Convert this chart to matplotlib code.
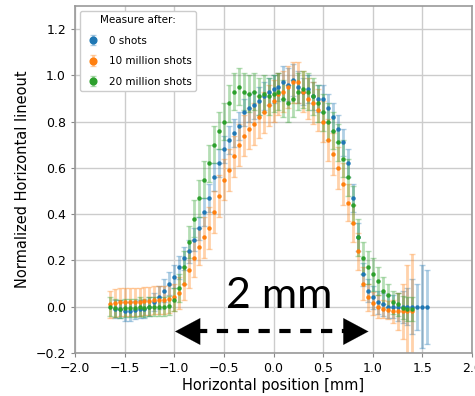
import numpy as np
import matplotlib.pyplot as plt

# Lineouts (step 0.05 mm)
x_blue = [-1.60, -1.55, -1.50, -1.45, -1.40, -1.35, -1.30, -1.25, -1.20, -1.15,
          -1.10, -1.05, -1.00, -0.95, -0.90, -0.85, -0.80, -0.75, -0.70, -0.65,
          -0.60, -0.55, -0.50, -0.45, -0.40, -0.35, -0.30, -0.25, -0.20, -0.15,
          -0.10, -0.05, 0.00, 0.05, 0.10, 0.15, 0.20, 0.25, 0.30, 0.35,
          0.40, 0.45, 0.50, 0.55, 0.60, 0.65, 0.70, 0.75, 0.80, 0.85,
          0.90, 0.95, 1.00, 1.05, 1.10, 1.15, 1.20, 1.25, 1.30, 1.35,
          1.40, 1.45, 1.50, 1.55]
y_blue = [-0.01, -0.01, -0.02, -0.02, -0.015, -0.01, -0.01, 0.0, 0.02, 0.04,
          0.07, 0.10, 0.13, 0.17, 0.21, 0.24, 0.29, 0.34, 0.41, 0.47,
          0.56, 0.62, 0.68, 0.72, 0.75, 0.78, 0.84, 0.86, 0.87, 0.89,
          0.91, 0.93, 0.94, 0.95, 0.97, 0.96, 0.98, 0.95, 0.93, 0.94,
          0.91, 0.90, 0.90, 0.86, 0.82, 0.77, 0.71, 0.62, 0.47, 0.30,
          0.14, 0.07, 0.04, 0.02, 0.01, 0.0, 0.0, 0.0, 0.0, 0.0,
          0.0, 0.0, 0.0, 0.0]
e_blue = [0.04, 0.04, 0.04, 0.04, 0.04, 0.04, 0.04, 0.04, 0.04, 0.05,
          0.05, 0.05, 0.05, 0.05, 0.05, 0.05, 0.05, 0.05, 0.06, 0.06,
          0.06, 0.06, 0.06, 0.06, 0.06, 0.06, 0.06, 0.06, 0.06, 0.06,
          0.06, 0.06, 0.06, 0.06, 0.07, 0.07, 0.07, 0.07, 0.06, 0.06,
          0.06, 0.06, 0.06, 0.06, 0.06, 0.06, 0.06, 0.06, 0.06, 0.06,
          0.05, 0.05, 0.05, 0.05, 0.05, 0.05, 0.05, 0.06, 0.07, 0.08,
          0.12, 0.10, 0.18, 0.16]

x_orange = [-1.65, -1.60, -1.55, -1.50, -1.45, -1.40, -1.35, -1.30, -1.25, -1.20,
            -1.15, -1.10, -1.05, -1.00, -0.95, -0.90, -0.85, -0.80, -0.75, -0.70,
            -0.65, -0.60, -0.55, -0.50, -0.45, -0.40, -0.35, -0.30, -0.25, -0.20,
            -0.15, -0.10, -0.05, 0.00, 0.05, 0.10, 0.15, 0.20, 0.25, 0.30,
            0.35, 0.40, 0.45, 0.50, 0.55, 0.60, 0.65, 0.70, 0.75, 0.80,
            0.85, 0.90, 0.95, 1.00, 1.05, 1.10, 1.15, 1.20, 1.25, 1.30,
            1.35, 1.40]
y_orange = [0.01, 0.015, 0.02, 0.02, 0.02, 0.02, 0.02, 0.025, 0.025, 0.03,
            0.03, 0.03, 0.035, 0.04, 0.06, 0.10, 0.16, 0.21, 0.26, 0.30,
            0.34, 0.41, 0.48, 0.55, 0.59, 0.65, 0.70, 0.74, 0.77, 0.79,
            0.82, 0.84, 0.87, 0.89, 0.92, 0.93, 0.95, 0.97, 0.97, 0.93,
            0.90, 0.88, 0.85, 0.80, 0.72, 0.66, 0.60, 0.53, 0.45, 0.36,
            0.24, 0.10, 0.04, 0.015, 0.0, -0.01, -0.015, -0.02, -0.02, -0.02,
            -0.02, -0.02]
e_orange = [0.06, 0.06, 0.06, 0.06, 0.06, 0.06, 0.06, 0.06, 0.06, 0.06,
            0.06, 0.06, 0.06, 0.06, 0.07, 0.07, 0.08, 0.08, 0.08, 0.09,
            0.09, 0.09, 0.09, 0.09, 0.09, 0.09, 0.09, 0.09, 0.09, 0.09,
            0.09, 0.09, 0.09, 0.09, 0.09, 0.09, 0.09, 0.09, 0.09, 0.09,
            0.09, 0.09, 0.09, 0.09, 0.09, 0.09, 0.09, 0.09, 0.08, 0.08,
            0.08, 0.07, 0.06, 0.05, 0.05, 0.04, 0.04, 0.05, 0.08, 0.12,
            0.20, 0.25]

x_green = [-1.65, -1.60, -1.55, -1.50, -1.45, -1.40, -1.35, -1.30, -1.25, -1.20,
           -1.15, -1.10, -1.05, -1.00, -0.95, -0.90, -0.85, -0.80, -0.75, -0.70,
           -0.65, -0.60, -0.55, -0.50, -0.45, -0.40, -0.35, -0.30, -0.25, -0.20,
           -0.15, -0.10, -0.05, 0.00, 0.05, 0.10, 0.15, 0.20, 0.25, 0.30,
           0.35, 0.40, 0.45, 0.50, 0.55, 0.60, 0.65, 0.70, 0.75, 0.80,
           0.85, 0.90, 0.95, 1.00, 1.05, 1.10, 1.15, 1.20, 1.25, 1.30,
           1.35, 1.40]
y_green = [0.0, -0.005, -0.01, -0.005, -0.005, -0.005, 0.0, -0.005, 0.0, 0.0,
           0.0, 0.0, 0.005, 0.03, 0.08, 0.17, 0.28, 0.38, 0.47, 0.55,
           0.62, 0.70, 0.76, 0.80, 0.88, 0.93, 0.95, 0.93, 0.92, 0.93,
           0.91, 0.92, 0.91, 0.92, 0.93, 0.90, 0.88, 0.90, 0.93, 0.94,
           0.93, 0.91, 0.88, 0.84, 0.80, 0.76, 0.71, 0.64, 0.56, 0.44,
           0.30, 0.21, 0.17, 0.14, 0.11, 0.07, 0.05, 0.02, 0.01, -0.005,
           -0.01, -0.01]
e_green = [0.04, 0.04, 0.04, 0.04, 0.04, 0.04, 0.04, 0.04, 0.04, 0.04,
           0.04, 0.04, 0.04, 0.05, 0.06, 0.07, 0.07, 0.08, 0.08, 0.08,
           0.08, 0.08, 0.08, 0.08, 0.08, 0.08, 0.08, 0.08, 0.08, 0.08,
           0.08, 0.08, 0.08, 0.08, 0.08, 0.08, 0.08, 0.08, 0.08, 0.08,
           0.08, 0.08, 0.08, 0.08, 0.08, 0.08, 0.08, 0.08, 0.08, 0.08,
           0.08, 0.07, 0.07, 0.07, 0.06, 0.06, 0.05, 0.05, 0.05, 0.05,
           0.05, 0.05]

series = [
    (x_blue, y_blue, e_blue, "0 shots", "tab:blue"),
    (x_orange, y_orange, e_orange, "10 million shots", "tab:orange"),
    (x_green, y_green, e_green, "20 million shots", "tab:green"),
]

fig = plt.figure(figsize=(4.75, 3.96), dpi=100)
ax = fig.add_axes([75 / 475, 1 - 353 / 396, (472 - 75) / 475, (353 - 6) / 396])

for xs, ys, es, lab, col in series:
    cont = ax.errorbar(xs, ys, yerr=es, fmt='o', ms=2.2, color=col, ecolor=col,
                       elinewidth=2.0, capsize=2.5, capthick=1, label=lab)
    for c in cont[1]:
        c.set_alpha(0.35)
    for b in cont[2]:
        b.set_alpha(0.35)

ax.set_xlim(-2.0, 2.0)
ax.set_ylim(-0.2, 1.3)
ax.set_xticks([-2.0, -1.5, -1.0, -0.5, 0.0, 0.5, 1.0, 1.5, 2.0])
ax.set_yticks([-0.2, 0.0, 0.2, 0.4, 0.6, 0.8, 1.0, 1.2])
ax.grid(True, color='#cccccc', lw=1)
ax.set_axisbelow(True)
ax.tick_params(labelsize=9, length=3, color='#888888')
for s in ax.spines.values():
    s.set_color('#999999')
    s.set_linewidth(1.2)

ax.set_xlabel("Horizontal position [mm]", fontsize=10.5, labelpad=2)
ax.set_ylabel("Normalized Horizontal lineout", fontsize=10.5, labelpad=4)

leg = ax.legend(title="Measure after:", loc='upper left', fontsize=7.5,
                title_fontsize=7.5, markerscale=2.2, framealpha=1,
                labelspacing=1.0, handlelength=1.6)
leg.get_frame().set_edgecolor('#cccccc')

# 2 mm annotation
ax.text(0.06, -0.005, "2 mm", fontsize=31, family=['Lato', 'DejaVu Sans'],
        ha='center', va='baseline')
ax.plot([-0.78, 0.74], [-0.107, -0.107], color='black', lw=3, ls=(0, (2.7, 2.3)))
ax.annotate("", xy=(-1.02, -0.107), xytext=(-0.76, -0.107),
            arrowprops=dict(arrowstyle='-|>,head_length=0.6,head_width=0.32',
                            mutation_scale=30, color='black', lw=0.1))
ax.annotate("", xy=(0.985, -0.107), xytext=(0.73, -0.107),
            arrowprops=dict(arrowstyle='-|>,head_length=0.6,head_width=0.32',
                            mutation_scale=30, color='black', lw=0.1))

plt.savefig("out.png", dpi=100)
